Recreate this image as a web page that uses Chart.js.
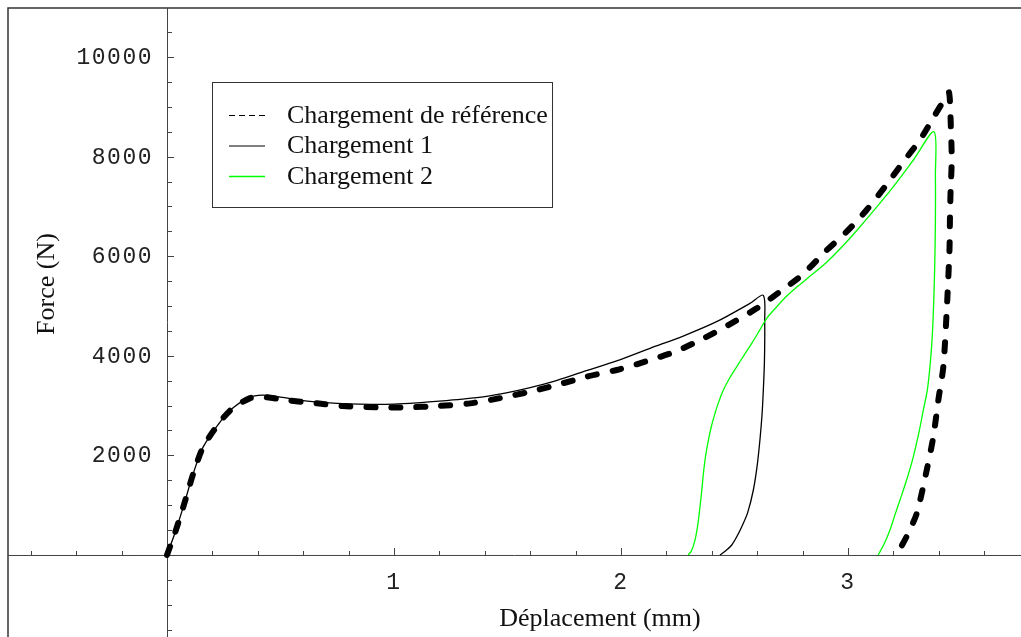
<!DOCTYPE html>
<html>
<head>
<meta charset="utf-8">
<script src="https://cdn.jsdelivr.net/npm/chart.js@4"></script>
<style>
  html, body { margin: 0; padding: 0; background: #fff; }
  #wrap { width: 1021px; height: 637px; position: relative; }
</style>
</head>
<body>
<div id="wrap"><canvas id="forceChart" width="1021" height="637"></canvas></div>
<script>
// series values (x in mm, y in N)
const refX = [0, 0.035, 0.072, 0.116, 0.16, 0.24, 0.29, 0.366, 0.41, 0.527, 0.66, 0.775, 0.924, 1.056, 1.19, 1.335, 1.467, 1.6, 1.717, 1.849, 1.981, 2.106, 2.238, 2.355, 2.473, 2.598, 2.70, 2.80, 2.899, 2.994, 3.082, 3.163, 3.244, 3.317, 3.383, 3.425, 3.445, 3.453, 3.457, 3.452, 3.449, 3.447, 3.435, 3.42, 3.398, 3.376, 3.347, 3.303, 3.258, 3.214];
const refY = [0, 442, 970, 1640, 2175, 2710, 2950, 3150, 3180, 3110, 3045, 2990, 2965, 2965, 2990, 3045, 3150, 3280, 3414, 3581, 3715, 3882, 4083, 4330, 4618, 4953, 5287, 5630, 6090, 6492, 6928, 7396, 7898, 8333, 8835, 9150, 9290, 8600, 7932, 7329, 6727, 6124, 4920, 3781, 3112, 2376, 1707, 837, 368, 0];

const ch1X = [0, 0.035, 0.072, 0.116, 0.16, 0.24, 0.29, 0.36, 0.42, 0.5, 0.6, 0.7, 0.8, 0.9, 1.0, 1.1, 1.2, 1.3, 1.4, 1.5, 1.6, 1.7, 1.834, 1.981, 2.128, 2.274, 2.421, 2.568, 2.627, 2.633, 2.632, 2.627, 2.621, 2.612, 2.600, 2.583, 2.558, 2.532, 2.508, 2.488, 2.465, 2.436];
const ch1Y = [0, 440, 970, 1640, 2175, 2710, 2950, 3160, 3210, 3170, 3100, 3060, 3035, 3025, 3030, 3055, 3090, 3130, 3180, 3260, 3360, 3480, 3681, 3896, 4150, 4397, 4685, 5053, 5215, 4700, 3913, 3313, 2800, 2309, 1800, 1305, 850, 568, 350, 201, 100, 0];

const ch2X = [2.296, 2.310, 2.326, 2.338, 2.348, 2.356, 2.363, 2.373, 2.385, 2.398, 2.414, 2.431, 2.451, 2.478, 2.51, 2.543, 2.576, 2.609, 2.642, 2.685, 2.73, 2.78, 2.833, 2.906, 2.98, 3.053, 3.127, 3.2, 3.288, 3.379, 3.385, 3.385, 3.382, 3.377, 3.370, 3.361, 3.349, 3.332, 3.312, 3.288, 3.26, 3.229, 3.205, 3.185, 3.16, 3.133];
const ch2Y = [0, 80, 300, 600, 970, 1300, 1640, 2000, 2309, 2580, 2845, 3080, 3313, 3550, 3781, 4020, 4251, 4500, 4753, 4980, 5200, 5400, 5600, 5880, 6220, 6592, 6990, 7396, 7932, 8500, 7600, 6700, 5800, 5000, 4300, 3781, 3300, 2912, 2450, 1974, 1530, 1104, 780, 502, 230, 0];

const seriesNames = ['Chargement de référence', 'Chargement 1', 'Chargement 2'];
const xTickValues = [1, 2, 3];
const xTickLabels = ['1', '2', '3'];
const yTickValues = [2000, 4000, 6000, 8000, 10000];
const yTickLabels = ['2000', '4000', '6000', '8000', '10000'];
const xTitle = 'Déplacement (mm)';
const yTitle = 'Force (N)';

function pairs(xs, ys) {
  return xs.map((v, i) => ({ x: v, y: ys[i] }));
}

const serif = '"Liberation Serif", "Times New Roman", serif';
const mono = '"Liberation Mono", "Courier New", monospace';

// Mathematica-like axes crossing at the origin, frame, titles and legend
const axesPlugin = {
  id: 'mmaAxes',
  beforeDatasetsDraw(chart) {
    const ctx = chart.ctx;
    const x = chart.scales.x, y = chart.scales.y;
    const x0 = x.getPixelForValue(0), y0 = y.getPixelForValue(0);
    const W = chart.width, H = chart.height;
    ctx.save();

    ctx.strokeStyle = '#333';
    ctx.lineWidth = 1.5;
    ctx.beginPath();
    ctx.moveTo(8, H); ctx.lineTo(8, 8); ctx.lineTo(W, 8);
    ctx.stroke();

    ctx.strokeStyle = '#444';
    ctx.lineWidth = 1;
    ctx.beginPath();
    ctx.moveTo(8, y0 + 0.5); ctx.lineTo(W, y0 + 0.5);
    ctx.moveTo(x0 + 0.5, 8); ctx.lineTo(x0 + 0.5, H);
    ctx.stroke();

    // x ticks (every 0.2, pointing up)
    ctx.beginPath();
    for (let k = -3; k <= 18; k++) {
      const px = Math.round(x.getPixelForValue(k / 5)) + 0.5;
      const len = k % 5 === 0 ? 7 : 4;
      ctx.moveTo(px, y0); ctx.lineTo(px, y0 - len);
    }
    // y ticks (every 500, pointing right)
    for (let k = -3; k <= 22; k++) {
      const py = Math.round(y.getPixelForValue(k * 500)) + 0.5;
      if (py < 12) continue;
      const len = k % 4 === 0 ? 7 : 5;
      ctx.moveTo(x0, py); ctx.lineTo(x0 + len, py);
    }
    ctx.stroke();

    ctx.fillStyle = '#222';
    ctx.font = '23px ' + mono;
    ctx.letterSpacing = '1.5px';
    ctx.textAlign = 'center';
    ctx.textBaseline = 'middle';
    xTickValues.forEach((v, i) => {
      ctx.fillText(xTickLabels[i], x.getPixelForValue(v), y0 + 28);
    });
    ctx.textAlign = 'right';
    yTickValues.forEach((v, i) => {
      ctx.fillText(yTickLabels[i], x0 - 14, y.getPixelForValue(v) + 1);
    });
    ctx.letterSpacing = '0px';

    ctx.fillStyle = '#111';
    ctx.font = '26px ' + serif;
    ctx.textAlign = 'center';
    ctx.fillText(xTitle, 600, 619);
    ctx.save();
    ctx.translate(47, 284);
    ctx.rotate(-Math.PI / 2);
    ctx.fillText(yTitle, 0, 0);
    ctx.restore();
    ctx.restore();
  },
  afterDatasetsDraw(chart) {
    const ctx = chart.ctx;
    ctx.save();
    ctx.fillStyle = '#fff';
    ctx.fillRect(212.5, 82.5, 340, 125);
    ctx.strokeStyle = '#333';
    ctx.lineWidth = 1;
    ctx.strokeRect(212.5, 82.5, 340, 125);

    const rows = [115, 145.5, 176];
    const styles = [
      { color: '#000', width: 1, dash: [6, 4] },
      { color: '#000', width: 1, dash: [] },
      { color: '#00ff00', width: 1.5, dash: [] }
    ];
    rows.forEach((ry, i) => {
      ctx.beginPath();
      ctx.strokeStyle = styles[i].color;
      ctx.lineWidth = styles[i].width;
      ctx.setLineDash(styles[i].dash);
      ctx.moveTo(229, ry + 0.5); ctx.lineTo(265, ry + 0.5);
      ctx.stroke();
    });
    ctx.setLineDash([]);
    ctx.fillStyle = '#111';
    ctx.font = '26px ' + serif;
    ctx.textAlign = 'left';
    ctx.textBaseline = 'middle';
    rows.forEach((ry, i) => ctx.fillText(seriesNames[i], 287, ry + 1));
    ctx.restore();
  }
};

new Chart(document.getElementById('forceChart'), {
  type: 'line',
  data: {
    datasets: [
      {
        label: seriesNames[0],
        data: pairs(refX, refY),
        borderColor: '#000',
        borderWidth: 6,
        borderDash: [9, 16],
        borderCapStyle: 'round',
        tension: 0.25,
        pointRadius: 0,
        order: 3
      },
      {
        label: seriesNames[1],
        data: pairs(ch1X, ch1Y),
        borderColor: '#000',
        borderWidth: 1.3,
        tension: 0.3,
        pointRadius: 0,
        order: 2
      },
      {
        label: seriesNames[2],
        data: pairs(ch2X, ch2Y),
        borderColor: '#00ff00',
        borderWidth: 1.3,
        tension: 0.3,
        pointRadius: 0,
        order: 1
      }
    ]
  },
  options: {
    responsive: false,
    animation: false,
    devicePixelRatio: 1,
    layout: { padding: 0 },
    plugins: { legend: { display: false }, tooltip: { enabled: false } },
    scales: {
      x: { type: 'linear', display: false, min: -0.7357, max: 3.7621 },
      y: { type: 'linear', display: false, min: -1647, max: 11145 }
    }
  },
  plugins: [axesPlugin]
});
</script>
</body>
</html>
